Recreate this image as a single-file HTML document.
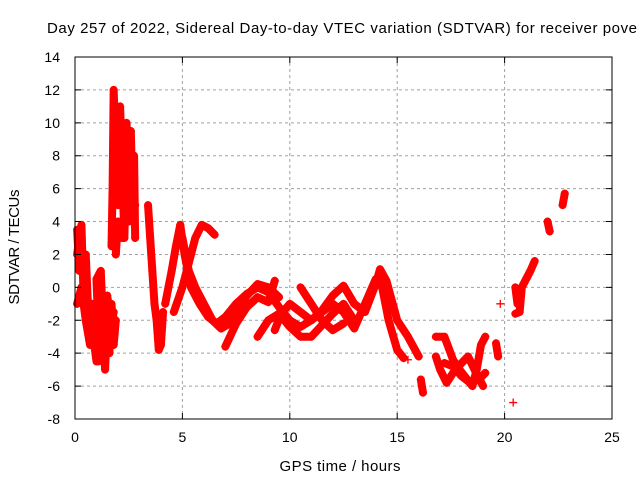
<!DOCTYPE html>
<html><head><meta charset="utf-8"><style>
html,body{margin:0;padding:0;background:#fff;}
svg{display:block;font-family:"Liberation Sans",sans-serif;}
</style></head><body>
<svg id="c" width="640" height="480" viewBox="0 0 640 480">
<text x="47" y="33" font-size="15" fill="#000" textLength="590" lengthAdjust="spacing">Day 257 of 2022, Sidereal Day-to-day VTEC variation (SDTVAR) for receiver pove</text>
<text x="340" y="471" font-size="15" text-anchor="middle" textLength="121">GPS time / hours</text>
<text transform="translate(19,247) rotate(-90)" font-size="15" text-anchor="middle" textLength="115">SDTVAR / TECUs</text>
<g id="grid"></g><g id="marks"></g><g id="axes"></g>
</svg>
<script>
const xTicks=[0,5,10,15,20,25];
const yTicks=[-8,-6,-4,-2,0,2,4,6,8,10,12,14];
const track1=[[4.2,-1],[4.5,1],[4.7,2.5],[4.9,3.8],[5.1,2],[5.4,0],[5.8,-1],[6.2,-1.8],[6.6,-2.2],[7.0,-1.8],[7.5,-1],[8.0,-0.4],[8.5,0],[9.0,-0.3],[9.5,-1.2],[10.0,-2],[10.5,-2.4],[11.0,-2],[11.5,-1.5],[12.0,-1],[12.5,-1.5],[13.0,-2.5],[13.5,-1],[14.0,0.5],[14.3,0],[14.6,-2],[15.0,-3.8],[15.3,-4.3]];
const track2=[[4.6,-1.5],[5.0,0],[5.3,1.5],[5.6,3],[5.9,3.8],[6.2,3.6],[6.5,3.2]];
const track3=[[5.0,3],[5.3,1],[5.6,0],[6.0,-1],[6.4,-2],[6.8,-2.5],[7.2,-2.2],[7.6,-1.3],[8.0,-0.5],[8.5,0.2],[9.0,0],[9.5,-0.6]];
const track4=[[7.0,-3.6],[7.5,-2.2],[8.0,-1.2],[8.5,-0.6],[9.0,-0.9],[9.3,0.4]];
const track5=[[9.3,-2.6],[9.6,-1.6],[10.0,-1],[10.5,-1.5],[11.0,-2],[11.5,-1.4],[12.0,-0.5],[12.5,0.1],[13.0,-1],[13.5,-1.5],[14.0,0.2],[14.2,1.1],[14.5,0.4],[15.0,-2],[15.5,-3],[16.0,-4.2]];
const track6=[[8.5,-3],[9.0,-2],[9.5,-1.6],[10.0,-2.4],[10.5,-3],[11.0,-3],[11.5,-2.3],[12.0,-1.6],[12.5,-1],[13.0,-2]];
const track7=[[10.5,0],[11.0,-1],[11.5,-2],[12.0,-2.6],[12.5,-2.2]];
const early1=[[0.1,3.5],[0.2,1],[0.3,3.8],[0.4,-0.5],[0.5,2],[0.6,-1],[0.7,-2.5],[0.8,-1],[0.9,-3.5],[1.0,-4.5],[1.1,-3],[1.0,0.5],[1.2,1],[1.3,-2],[1.4,-5],[1.5,-2],[1.6,-4],[1.7,-1],[1.8,-3.5],[1.9,-2]];
const early2=[[0.1,-1],[0.3,0],[0.5,-2],[0.7,-3.5],[0.9,-2],[1.1,-4.5],[1.3,-3.5],[1.5,-0.5],[1.7,-2.5]];
const early3=[[0.1,2],[0.2,3],[0.3,1.5],[0.4,0.5],[0.5,-0.5],[0.6,-2],[0.8,-3],[1.0,-3.8],[1.2,-2.5],[1.4,-4],[1.6,-3],[1.8,-1.5]];
const spike=[[1.7,2.5],[1.75,6],[1.8,12],[1.9,8],[2.0,5],[2.1,11],[2.2,7],[2.3,3],[2.4,10],[2.5,6],[2.6,9.5],[2.7,4],[2.75,8],[2.8,3]];
const spike2=[[1.9,2],[2.0,4],[2.2,3],[2.4,6],[2.6,4.5],[2.8,5]];
const spike3=[[2.0,7],[2.2,9],[2.4,7.5],[2.6,8],[2.7,6],[2.5,4],[2.3,5]];
const track8=[[3.4,5],[3.5,3],[3.6,1],[3.7,-1],[3.8,-2],[3.9,-3.8],[4.0,-3.5],[4.1,-1.5]];
const right1=[[16.1,-5.6],[16.2,-6.4]];
const right2=[[16.8,-3],[17.2,-3],[17.6,-4.4],[17.9,-5],[18.2,-5.5],[18.5,-6],[18.7,-5],[18.9,-3.5],[19.1,-3]];
const right3=[[16.8,-4.2],[17.0,-5],[17.3,-5.8],[17.6,-5.2],[18.0,-4.6],[18.3,-4.2],[18.6,-5],[19.0,-6]];
const right3b=[[17.2,-4.6],[17.6,-4.8],[18.0,-5.4],[18.4,-5.8],[18.8,-5.6],[19.1,-5.2]];
const right4=[[19.6,-3.4],[19.7,-4.2]];
const right5=[[20.5,-1.6],[20.7,-1.5],[20.8,0],[21.0,0.5],[21.2,1],[21.4,1.6]];
const right6=[[20.5,0],[20.6,-1]];
const right7=[[22.0,4],[22.1,3.4]];
const right8=[[22.7,5],[22.8,5.7]];
const singles=[[19.8,-1],[20.4,-7],[15.5,-4.4]];
const tracks=[track1,track2,track3,track4,track5,track6,track7,early1,early2,early3,spike,spike2,spike3,track8,right1,right2,right3,right3b,right4,right5,right6,right7,right8];
const X0=75,X1=612,Y0=419,Y1=57;
const sx=t=>X0+(t-0)/(25-0)*(X1-X0);
const sy=v=>Y0-(v+8)/(14+8)*(Y0-Y1);
const NS="http://www.w3.org/2000/svg";
const grid=document.getElementById('grid'),marks=document.getElementById('marks'),axes=document.getElementById('axes');
function mk(tag,attrs,parent){const e=document.createElementNS(NS,tag);for(const k in attrs)e.setAttribute(k,attrs[k]);parent.appendChild(e);return e;}
xTicks.forEach(t=>{
  if(t>0&&t<25){const g=mk('line',{x1:sx(t),x2:sx(t),y1:Y1,y2:Y0,stroke:'#a0a0a0','stroke-dasharray':'3,3'},grid);
  
  }
  const tk=mk('path',{d:`M${sx(t)},${Y0}v-6M${sx(t)},${Y1}v6`,stroke:'#000'},axes);
  
  
  const l=mk('text',{x:sx(t),y:Y0+23,'font-size':14,'text-anchor':'middle'},axes);l.textContent=t;
  
  
});
yTicks.forEach(v=>{
  if(v>-8&&v<14){const g=mk('line',{x1:X0,x2:X1,y1:sy(v),y2:sy(v),stroke:'#a0a0a0','stroke-dasharray':'3,3'},grid);
  
  }
  const tk=mk('path',{d:`M${X0},${sy(v)}h6M${X1},${sy(v)}h-6`,stroke:'#000'},axes);
  
  
  const l=mk('text',{x:X0-15,y:sy(v)+5,'font-size':14,'text-anchor':'end'},axes);l.textContent=v;
  
  
});
const box=mk('rect',{x:X0,y:Y1,width:X1-X0,height:Y0-Y1,fill:'none',stroke:'#000'},axes);


tracks.forEach(tr=>{
  const pl=mk('polyline',{points:tr.map(p=>sx(p[0])+','+sy(p[1])).join(' '),fill:'none',stroke:'#f00','stroke-width':8,'stroke-linejoin':'round','stroke-linecap':'round'},marks);
  
  
});
tracks.concat([singles]).forEach(tr=>tr.forEach(p=>{
  const x=sx(p[0]),y=sy(p[1]);
  const m=mk('path',{d:`M${x-4},${y}h8M${x},${y-4}v8`,stroke:'#f00','stroke-width':1.3},marks);
  
  
}));
</script>
</body></html>
